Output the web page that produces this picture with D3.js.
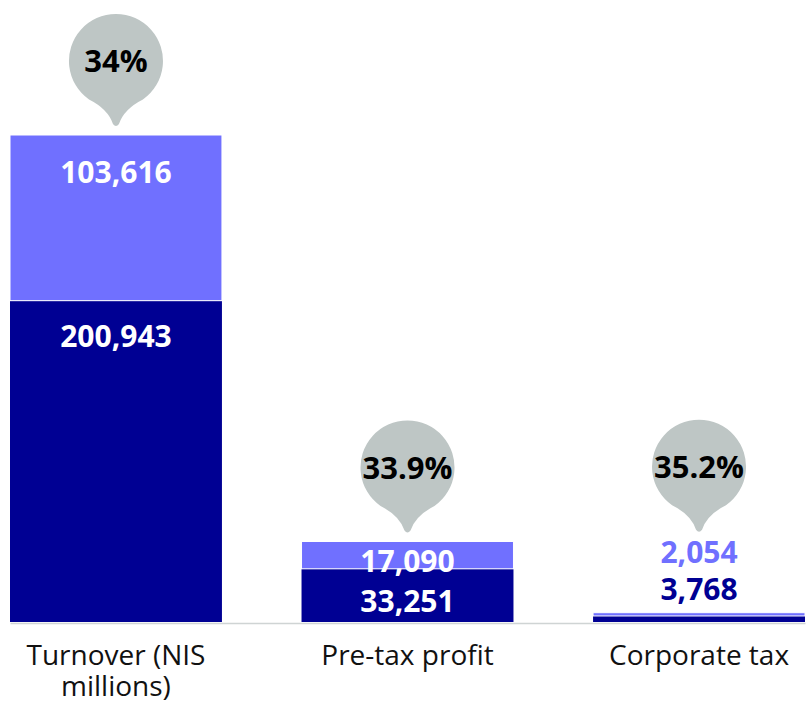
<!DOCTYPE html>
<html>
<head>
<meta charset="utf-8">
<script src="https://cdn.jsdelivr.net/npm/d3@7"></script>
<style>
  body { margin: 0; background: #fff; }
  svg { display: block; font-family: "Open Sans", "Noto Sans", sans-serif; }
</style>
</head>
<body>
<div id="chart"></div>
<script>
// Chart data
const categories = ["Turnover (NIS millions)", "Pre-tax profit", "Corporate tax"];
const darkValues = [200943, 33251, 3768];
const lightValues = [103616, 17090, 2054];
const shareLabels = ["34%", "33.9%", "35.2%"];

const width = 806, height = 705;
const baseY = 622;

const darkColor = "#000093";
const lightColor = "#7070ff";
const bubbleColor = "#bec6c5";

const svg = d3.select("#chart").append("svg")
    .attr("width", width)
    .attr("height", height);

// Scales
const x = d3.scaleBand()
    .domain(categories)
    .range([10, 805])
    .paddingInner(0.273)
    .paddingOuter(0);

const totals = darkValues.map((d, i) => d + lightValues[i]);
const y = d3.scaleLinear()
    .domain([0, d3.max(totals)])
    .range([baseY, 135]);

const rows = categories.map((c, i) => ({
    cat: c, dark: darkValues[i], light: lightValues[i], total: totals[i], share: shareLabels[i]
}));

const fmt = d3.format(",");

// Axis (category labels wrapped under bars)
const axis = svg.append("g")
    .attr("transform", `translate(0,${baseY + 1})`)
    .call(d3.axisBottom(x).tickSize(0).tickPadding(22));
axis.select(".domain").attr("stroke", "#cfd4d4").attr("stroke-width", 1.5);
axis.selectAll("text")
    .attr("font-size", 28)
    .attr("font-family", "\"Open Sans\", \"Noto Sans\", sans-serif")
    .attr("fill", "#111")
    .each(function() { wrap(d3.select(this), x.bandwidth()); });

function wrap(text, w) {
    const words = text.text().split(/\s+/);
    const yy = text.attr("y"), dy = parseFloat(text.attr("dy")) || 0;
    text.text(null);
    let line = [], lineNo = 0;
    let tspan = text.append("tspan").attr("x", 0).attr("y", yy).attr("dy", dy + "em");
    words.forEach(word => {
        line.push(word);
        tspan.text(line.join(" "));
        if (tspan.node().getComputedTextLength() > w && line.length > 1) {
            line.pop();
            tspan.text(line.join(" "));
            line = [word];
            lineNo++;
            tspan = text.append("tspan").attr("x", 0).attr("y", yy)
                .attr("dy", (dy + lineNo * 1.12) + "em").text(word);
        }
    });
}

// Bars
const bars = svg.selectAll("g.bar")
    .data(rows)
    .join("g")
    .attr("class", "bar");

bars.append("rect")
    .attr("x", d => x(d.cat))
    .attr("y", d => y(d.dark))
    .attr("width", x.bandwidth())
    .attr("height", d => baseY - y(d.dark))
    .attr("fill", darkColor);

bars.append("rect")
    .attr("x", d => x(d.cat))
    .attr("y", d => y(d.total))
    .attr("width", x.bandwidth())
    .attr("height", d => y(d.dark) - y(d.total))
    .attr("fill", lightColor)
    .attr("stroke", "#fff")
    .attr("stroke-width", 1);

// Work out where the value labels go
rows.forEach(d => {
    const darkH = baseY - y(d.dark);
    const totalH = baseY - y(d.total);
    if (darkH >= 100) {
        d.darkY = y(d.dark) + 46;
        d.lightY = y(d.total) + 48;
        d.darkFill = "#fff"; d.lightFill = "#fff";
    } else if (totalH > 40) {
        d.darkY = baseY - 10;
        d.lightY = d.darkY - 40;
        d.darkFill = "#fff"; d.lightFill = "#fff";
    } else {
        d.darkY = y(d.total) - 13;
        d.lightY = d.darkY - 37;
        d.darkFill = darkColor; d.lightFill = lightColor;
    }
    d.tipY = Math.min(y(d.total), d.lightY - 22) - 8;
});

bars.append("text")
    .attr("x", d => x(d.cat) + x.bandwidth() / 2)
    .attr("y", d => d.darkY)
    .attr("text-anchor", "middle")
    .attr("font-size", 30)
    .attr("font-weight", 700)
    .attr("fill", d => d.darkFill)
    .text(d => fmt(d.dark));

bars.append("text")
    .attr("x", d => x(d.cat) + x.bandwidth() / 2)
    .attr("y", d => d.lightY)
    .attr("text-anchor", "middle")
    .attr("font-size", 30)
    .attr("font-weight", 700)
    .attr("fill", d => d.lightFill)
    .text(d => fmt(d.light));

// Share bubbles
const r = 47, tip = 66;
const a = 35 * Math.PI / 180;
const sx = r * Math.sin(a), sy = r * Math.cos(a);
const bubblePath = `M${-sx},${sy} A${r},${r} 0 1 1 ${sx},${sy}`
    + ` Q8,48 3,${tip - 3} Q0,${tip + 1} -3,${tip - 3} Q-8,48 ${-sx},${sy} Z`;

const bubbles = bars.append("g")
    .attr("transform", d => `translate(${x(d.cat) + x.bandwidth() / 2},${d.tipY - tip})`);

bubbles.append("path")
    .attr("d", bubblePath)
    .attr("fill", bubbleColor);

bubbles.append("text")
    .attr("y", 11)
    .attr("text-anchor", "middle")
    .attr("font-size", 31)
    .attr("font-weight", 700)
    .attr("fill", "#000")
    .text(d => d.share);
</script>
</body>
</html>
